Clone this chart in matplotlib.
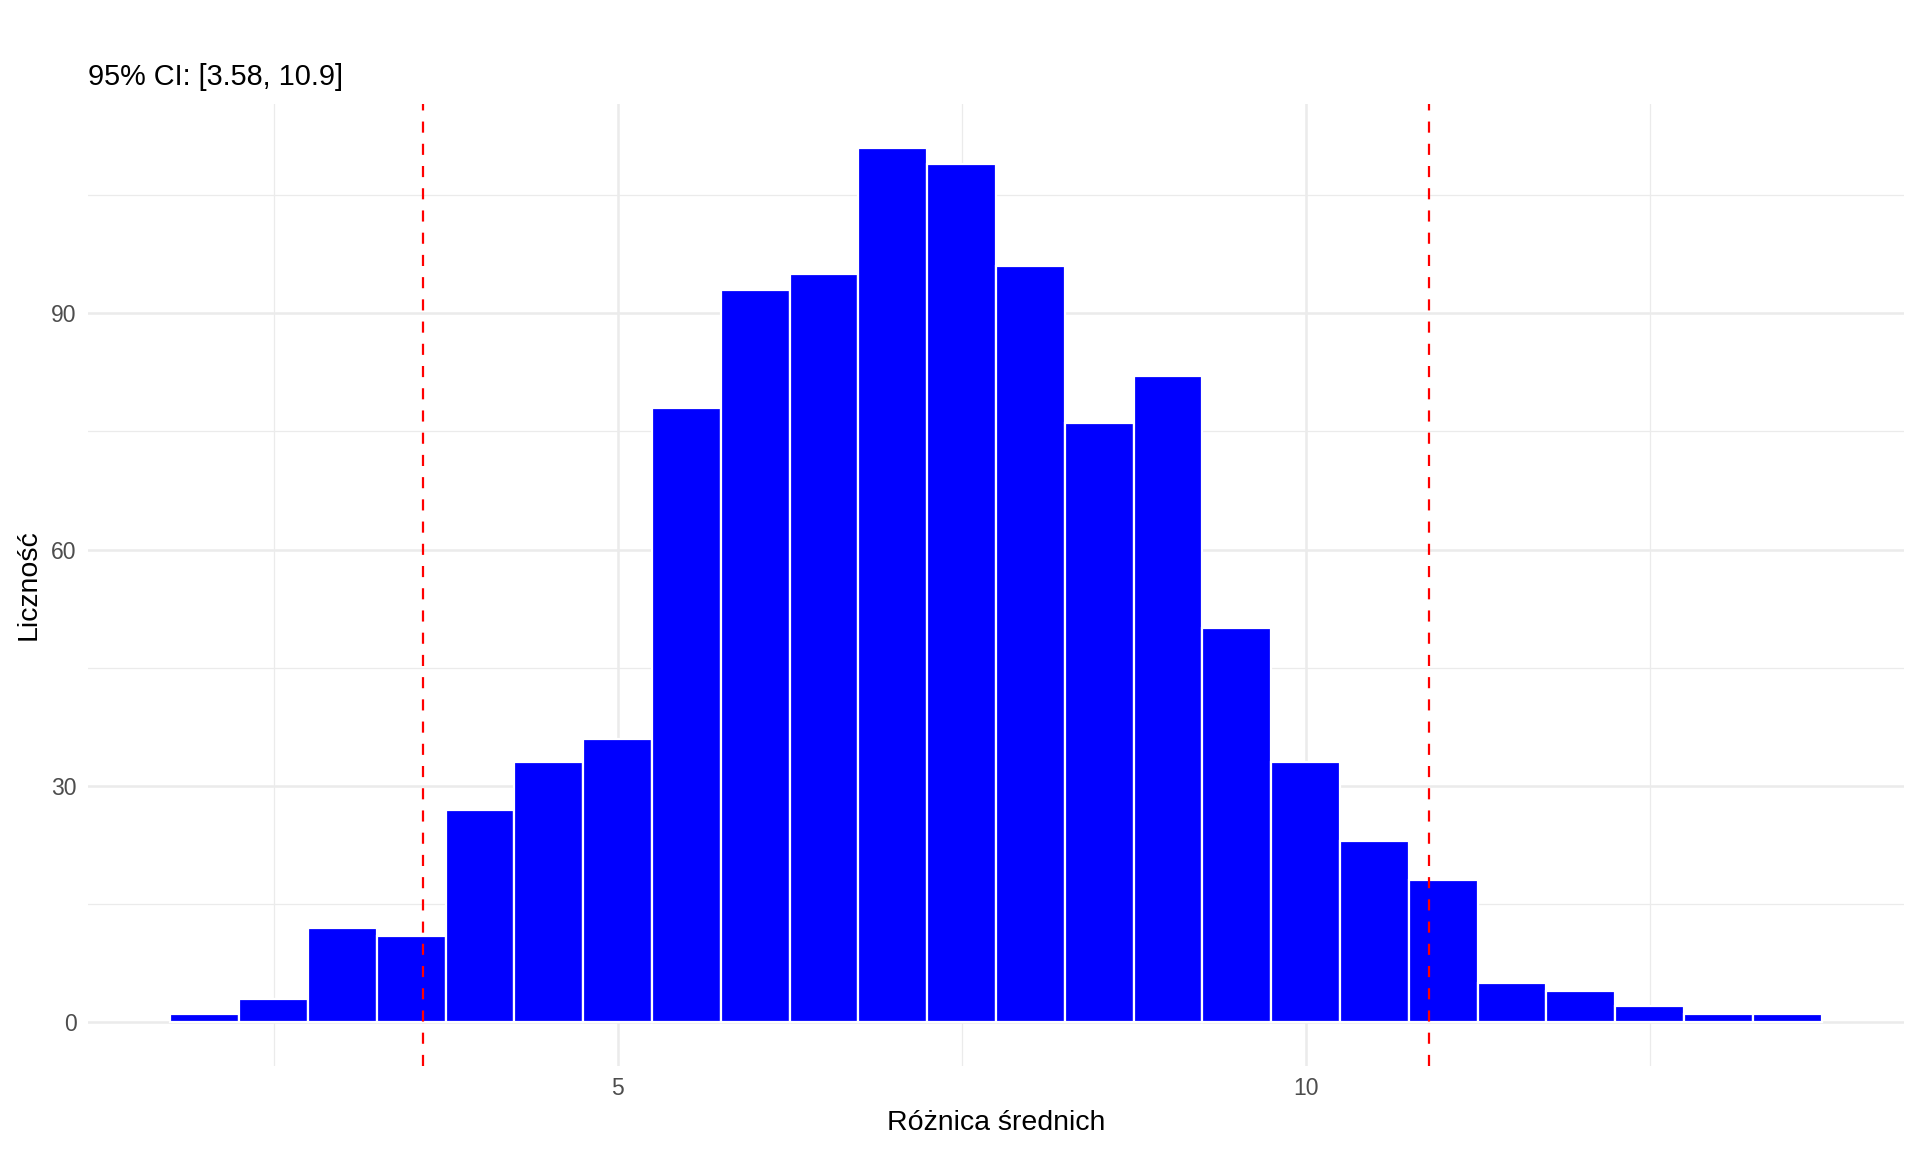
import matplotlib
matplotlib.use("Agg")
import matplotlib.pyplot as plt
import numpy as np

plt.rcParams['font.family'] = ['Liberation Sans', 'DejaVu Sans']

# Data
bin_centers = [2.0, 2.5, 3.0, 3.5, 4.0, 4.5, 5.0, 5.5, 6.0, 6.5, 7.0, 7.5,
               8.0, 8.5, 9.0, 9.5, 10.0, 10.5, 11.0, 11.5, 12.0, 12.5, 13.0, 13.5]
counts = [1, 3, 12, 11, 27, 33, 36, 78, 93, 95, 111, 109,
          96, 76, 82, 50, 33, 23, 18, 5, 4, 2, 1, 1]
bin_width = 0.5
ci_bounds = [3.585, 10.899]
title = "95% CI: [3.58, 10.9]"
x_label = "Różnica średnich"
y_label = "Liczność"
x_major = [5, 10]
x_minor = [2.5, 7.5, 12.5]
y_major = [0, 30, 60, 90]
y_minor = [15, 45, 75, 105]

fig = plt.figure(figsize=(19.2, 11.52), dpi=100)
ax = fig.add_axes([0.0458, 0.0747, 0.9459, 0.835])

ax.bar(bin_centers, counts, width=bin_width, color='#0000FF', edgecolor='white',
       linewidth=1.6, zorder=3)
for b in ci_bounds:
    ax.axvline(b, color='#FF0000', linestyle=(0, (5, 5)), linewidth=1.6, zorder=4)

lo = bin_centers[0] - bin_width / 2
hi = bin_centers[-1] + bin_width / 2
span = hi - lo
ax.set_xlim(lo - 0.05 * span, hi + 0.05 * span)
ymax = max(counts)
ax.set_ylim(-0.05 * ymax, ymax * 1.05)

ax.set_xticks(x_major)
ax.set_xticks(x_minor, minor=True)
ax.set_yticks(y_major)
ax.set_yticks(y_minor, minor=True)
ax.grid(which='major', color='#EBEBEB', linewidth=1.8, zorder=0)
ax.grid(which='minor', color='#EBEBEB', linewidth=0.9, zorder=0)
ax.tick_params(which='both', length=0)
ax.tick_params(axis='both', labelsize=16.5, labelcolor='#4D4D4D', pad=8)
for s in ax.spines.values():
    s.set_visible(False)

ax.set_xlabel(x_label, fontsize=20.5, color='black', labelpad=7)
ax.set_ylabel(y_label, fontsize=20.5, color='black', labelpad=7)
ax.set_title(title, loc='left', fontsize=20.8, color='black', pad=14)

fig.savefig("out.png", dpi=100, facecolor='white')
